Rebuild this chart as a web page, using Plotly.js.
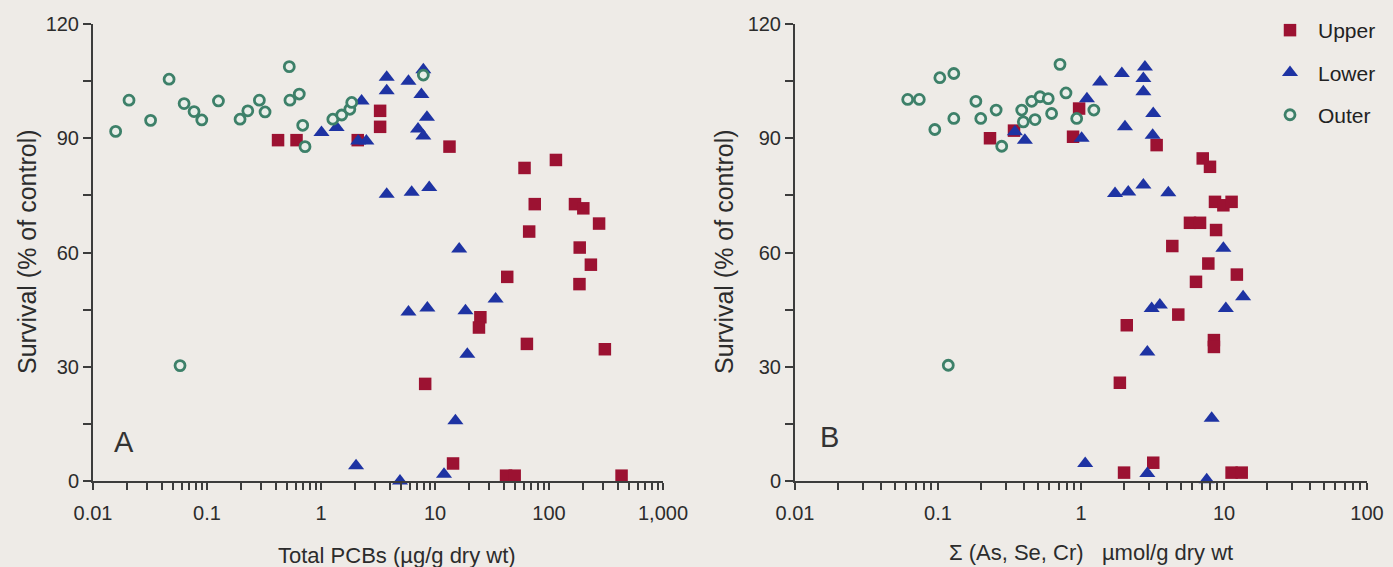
<!DOCTYPE html>
<html>
<head>
<meta charset="utf-8">
<script src="https://cdn.plot.ly/plotly-3.0.1.min.js"></script>
<style>html,body{margin:0;padding:0;background:#eeebe7;}</style>
</head>
<body>
<div id="chart" style="width:1393px;height:567px;"></div>
<script>
// ---- Panel A: Total PCBs (µg/g dry wt) vs Survival (% of control)
const upperA_x = [0.42, 0.61, 2.1, 3.3, 3.3, 13.4, 61, 115, 75, 169, 200, 275, 67, 186, 233, 185, 43, 25, 24.3, 64, 309, 8.2, 14.4, 42, 50, 433];
const upperA_y = [89.5, 89.5, 89.5, 97.2, 93, 87.8, 82.2, 84.3, 72.7, 72.7, 71.6, 67.6, 65.5, 61.3, 56.8, 51.7, 53.6, 43, 40.3, 36, 34.6, 25.5, 4.6, 1.4, 1.4, 1.4];
const lowerA_x = [1.01, 1.37, 2.27, 2.12, 2.5, 3.77, 3.77, 5.85, 7.9, 7.6, 8.5, 7.1, 7.9, 3.77, 6.24, 8.9, 16.3, 5.85, 8.57, 18.5, 34, 19.2, 15.1, 2.03, 4.93, 12];
const lowerA_y = [91.5, 92.8, 99.8, 89.3, 89.3, 106, 102.5, 105, 108, 101.5, 95.5, 92.4, 90.6, 75.3, 75.8, 77.1, 60.9, 44.4, 45.4, 44.7, 47.8, 33.3, 15.8, 4, 0, 1.8];
const outerA_x = [0.0158, 0.0207, 0.032, 0.0465, 0.063, 0.077, 0.09, 0.126, 0.195, 0.228, 0.288, 0.323, 0.527, 0.534, 0.645, 0.691, 0.724, 1.27, 1.52, 1.79, 1.86, 7.9, 0.058];
const outerA_y = [91.8, 100, 94.7, 105.5, 99.1, 97, 94.8, 99.8, 95, 97.2, 100, 96.9, 108.8, 100, 101.6, 93.4, 87.8, 95, 96.1, 97.6, 99.4, 106.6, 30.3];

// ---- Panel B: Σ (As, Se, Cr) µmol/g dry wt vs Survival
const upperB_x = [0.231, 0.34, 0.97, 0.88, 3.38, 7.1, 7.98, 8.65, 9.9, 11.3, 5.78, 6.8, 8.8, 4.35, 7.77, 12.3, 6.37, 4.79, 2.09, 8.5, 8.5, 1.87, 3.2, 2.0, 11.3, 13.3];
const upperB_y = [90, 92, 97.8, 90.4, 88.2, 84.7, 82.5, 73.3, 72.4, 73.3, 67.8, 67.8, 65.9, 61.7, 57.1, 54.2, 52.3, 43.7, 40.9, 37, 35.2, 25.8, 4.8, 2.2, 2.2, 2.2];
const lowerB_x = [0.345, 0.405, 1.1, 1.01, 1.36, 1.93, 2.8, 2.73, 2.73, 2.03, 3.2, 3.17, 1.73, 2.14, 2.73, 4.08, 9.9, 13.6, 10.3, 3.12, 3.56, 2.91, 8.2, 1.07, 2.91, 7.57];
const lowerB_y = [91.7, 89.5, 100.4, 90, 104.8, 107, 108.7, 105.7, 102.2, 93, 96.5, 90.8, 75.5, 75.9, 77.7, 75.7, 61.1, 48.4, 45.3, 45.3, 46.2, 33.9, 16.5, 4.6, 2, 0.3];
const outerB_x = [0.0614, 0.074, 0.103, 0.129, 0.095, 0.129, 0.184, 0.199, 0.255, 0.279, 0.385, 0.395, 0.452, 0.477, 0.517, 0.59, 0.623, 0.713, 0.785, 0.933, 1.23, 0.118];
const outerB_y = [100.2, 100.2, 105.9, 107, 92.3, 95.2, 99.7, 95.2, 97.4, 87.9, 97.4, 94.3, 99.7, 94.9, 100.9, 100.4, 96.5, 109.4, 101.9, 95.2, 97.4, 30.4];

const seriesNames = ['Upper', 'Lower', 'Outer'];
const yTickVals = [0, 15, 30, 45, 60, 75, 90, 105, 120];
const yTickText = ['0', '', '30', '', '60', '', '90', '', '120'];
const xDecadesA = [0.01, 0.1, 1, 10, 100, 1000];
const xDecadeTextA = ['0.01', '0.1', '1', '10', '100', '1,000'];
const xDecadesB = [0.01, 0.1, 1, 10, 100];
const xDecadeTextB = ['0.01', '0.1', '1', '10', '100'];

function logTicks(decades, texts) {
  const vals = [], txt = [];
  decades.forEach((d, i) => {
    vals.push(d); txt.push(texts[i]);
    if (i < decades.length - 1) {
      for (let k = 2; k <= 9; k++) { vals.push(+(d * k).toPrecision(3)); txt.push(''); }
    }
  });
  return {vals, txt};
}
const tA = logTicks(xDecadesA, xDecadeTextA);
const tB = logTicks(xDecadesB, xDecadeTextB);

const RED = '#9c1232', BLUE = '#1e33a3', GREEN = '#3d8069';
const mk = {
  Upper: {symbol: 'square', size: 12.5, color: RED},
  Lower: {symbol: 'triangle-up', size: 14, color: BLUE},
  Outer: {symbol: 'circle', size: 10, color: '#e9eee9', line: {color: GREEN, width: 2.8}}
};
function tr(x, y, name, xa, ya, show) {
  return {type: 'scatter', mode: 'markers', x: x, y: y, name: name, xaxis: xa, yaxis: ya,
    marker: mk[name], showlegend: show, legendgroup: name, cliponaxis: false, hoverinfo: 'x+y'};
}
const data = [
  tr(upperA_x, upperA_y, seriesNames[0], 'x', 'y', false),
  tr(lowerA_x, lowerA_y, seriesNames[1], 'x', 'y', false),
  tr(outerA_x, outerA_y, seriesNames[2], 'x', 'y', false),
  tr(upperB_x, upperB_y, seriesNames[0], 'x2', 'y2', true),
  tr(lowerB_x, lowerB_y, seriesNames[1], 'x2', 'y2', true),
  tr(outerB_x, outerB_y, seriesNames[2], 'x2', 'y2', true)
];

const W = 1393, H = 567;
const FONT = 'Liberation Sans, Arial, sans-serif';
const tickFont = {family: FONT, size: 20, color: '#2c2c2c'};
const axCommon = {showgrid: false, zeroline: false, showline: true, linecolor: '#3c3c3c', linewidth: 2,
  ticks: 'outside', tickcolor: '#3c3c3c', tickwidth: 1.5, tickfont: tickFont, automargin: false, fixedrange: true};
const yDom = [1 - 481 / H, 1 - 24 / H];

const layout = {
  width: W, height: H,
  margin: {l: 0, r: 0, t: 0, b: 0},
  paper_bgcolor: '#eeebe7', plot_bgcolor: 'rgba(0,0,0,0)',
  xaxis: Object.assign({}, axCommon, {type: 'log', range: [-2, 3], domain: [93 / W, 663 / W], anchor: 'y',
    tickmode: 'array', tickvals: tA.vals, ticktext: tA.txt, ticklen: 7, ticklabelstandoff: 6}),
  yaxis: Object.assign({}, axCommon, {range: [0, 120], domain: yDom, anchor: 'x',
    tickmode: 'array', tickvals: yTickVals, ticktext: yTickText, ticklen: 8}),
  xaxis2: Object.assign({}, axCommon, {type: 'log', range: [-2, 2], domain: [795 / W, 1367 / W], anchor: 'y2',
    tickmode: 'array', tickvals: tB.vals, ticktext: tB.txt, ticklen: 7, ticklabelstandoff: 6}),
  yaxis2: Object.assign({}, axCommon, {range: [0, 120], domain: yDom, anchor: 'x2',
    tickmode: 'array', tickvals: yTickVals, ticktext: yTickText, ticklen: 8}),
  legend: {x: 1262 / W, y: 1 - 10 / H, xanchor: 'left', yanchor: 'top', bgcolor: 'rgba(0,0,0,0)',
    font: {family: FONT, size: 21, color: '#222'}, tracegroupgap: 12, itemwidth: 46},
  annotations: [
    {text: 'A', xref: 'paper', yref: 'paper', x: 124 / W, y: 1 - 442 / H, showarrow: false,
      xanchor: 'center', yanchor: 'middle', font: {family: FONT, size: 29, color: '#333'}},
    {text: 'B', xref: 'paper', yref: 'paper', x: 829 / W, y: 1 - 437 / H, showarrow: false,
      xanchor: 'center', yanchor: 'middle', font: {family: FONT, size: 29, color: '#333'}},
    {text: 'Total PCBs (µg/g dry wt)', xref: 'paper', yref: 'paper', x: 397 / W, y: 1 - 555 / H, showarrow: false,
      xanchor: 'center', yanchor: 'middle', font: {family: FONT, size: 22, color: '#2c2c2c'}},
    {text: 'Σ (As, Se, Cr)\u00a0\u00a0\u00a0µmol/g dry wt', xref: 'paper', yref: 'paper', x: 1091 / W, y: 1 - 552 / H, showarrow: false,
      xanchor: 'center', yanchor: 'middle', font: {family: FONT, size: 22, color: '#2c2c2c'}},
    {text: 'Survival (% of control)', xref: 'paper', yref: 'paper', x: 27 / W, y: 1 - 252 / H, showarrow: false,
      textangle: -90, xanchor: 'center', yanchor: 'middle', font: {family: FONT, size: 25, color: '#2c2c2c'}},
    {text: 'Survival (% of control)', xref: 'paper', yref: 'paper', x: 724 / W, y: 1 - 252 / H, showarrow: false,
      textangle: -90, xanchor: 'center', yanchor: 'middle', font: {family: FONT, size: 25, color: '#2c2c2c'}}
  ]
};

Plotly.newPlot('chart', data, layout, {displayModeBar: false});
</script>
</body>
</html>
